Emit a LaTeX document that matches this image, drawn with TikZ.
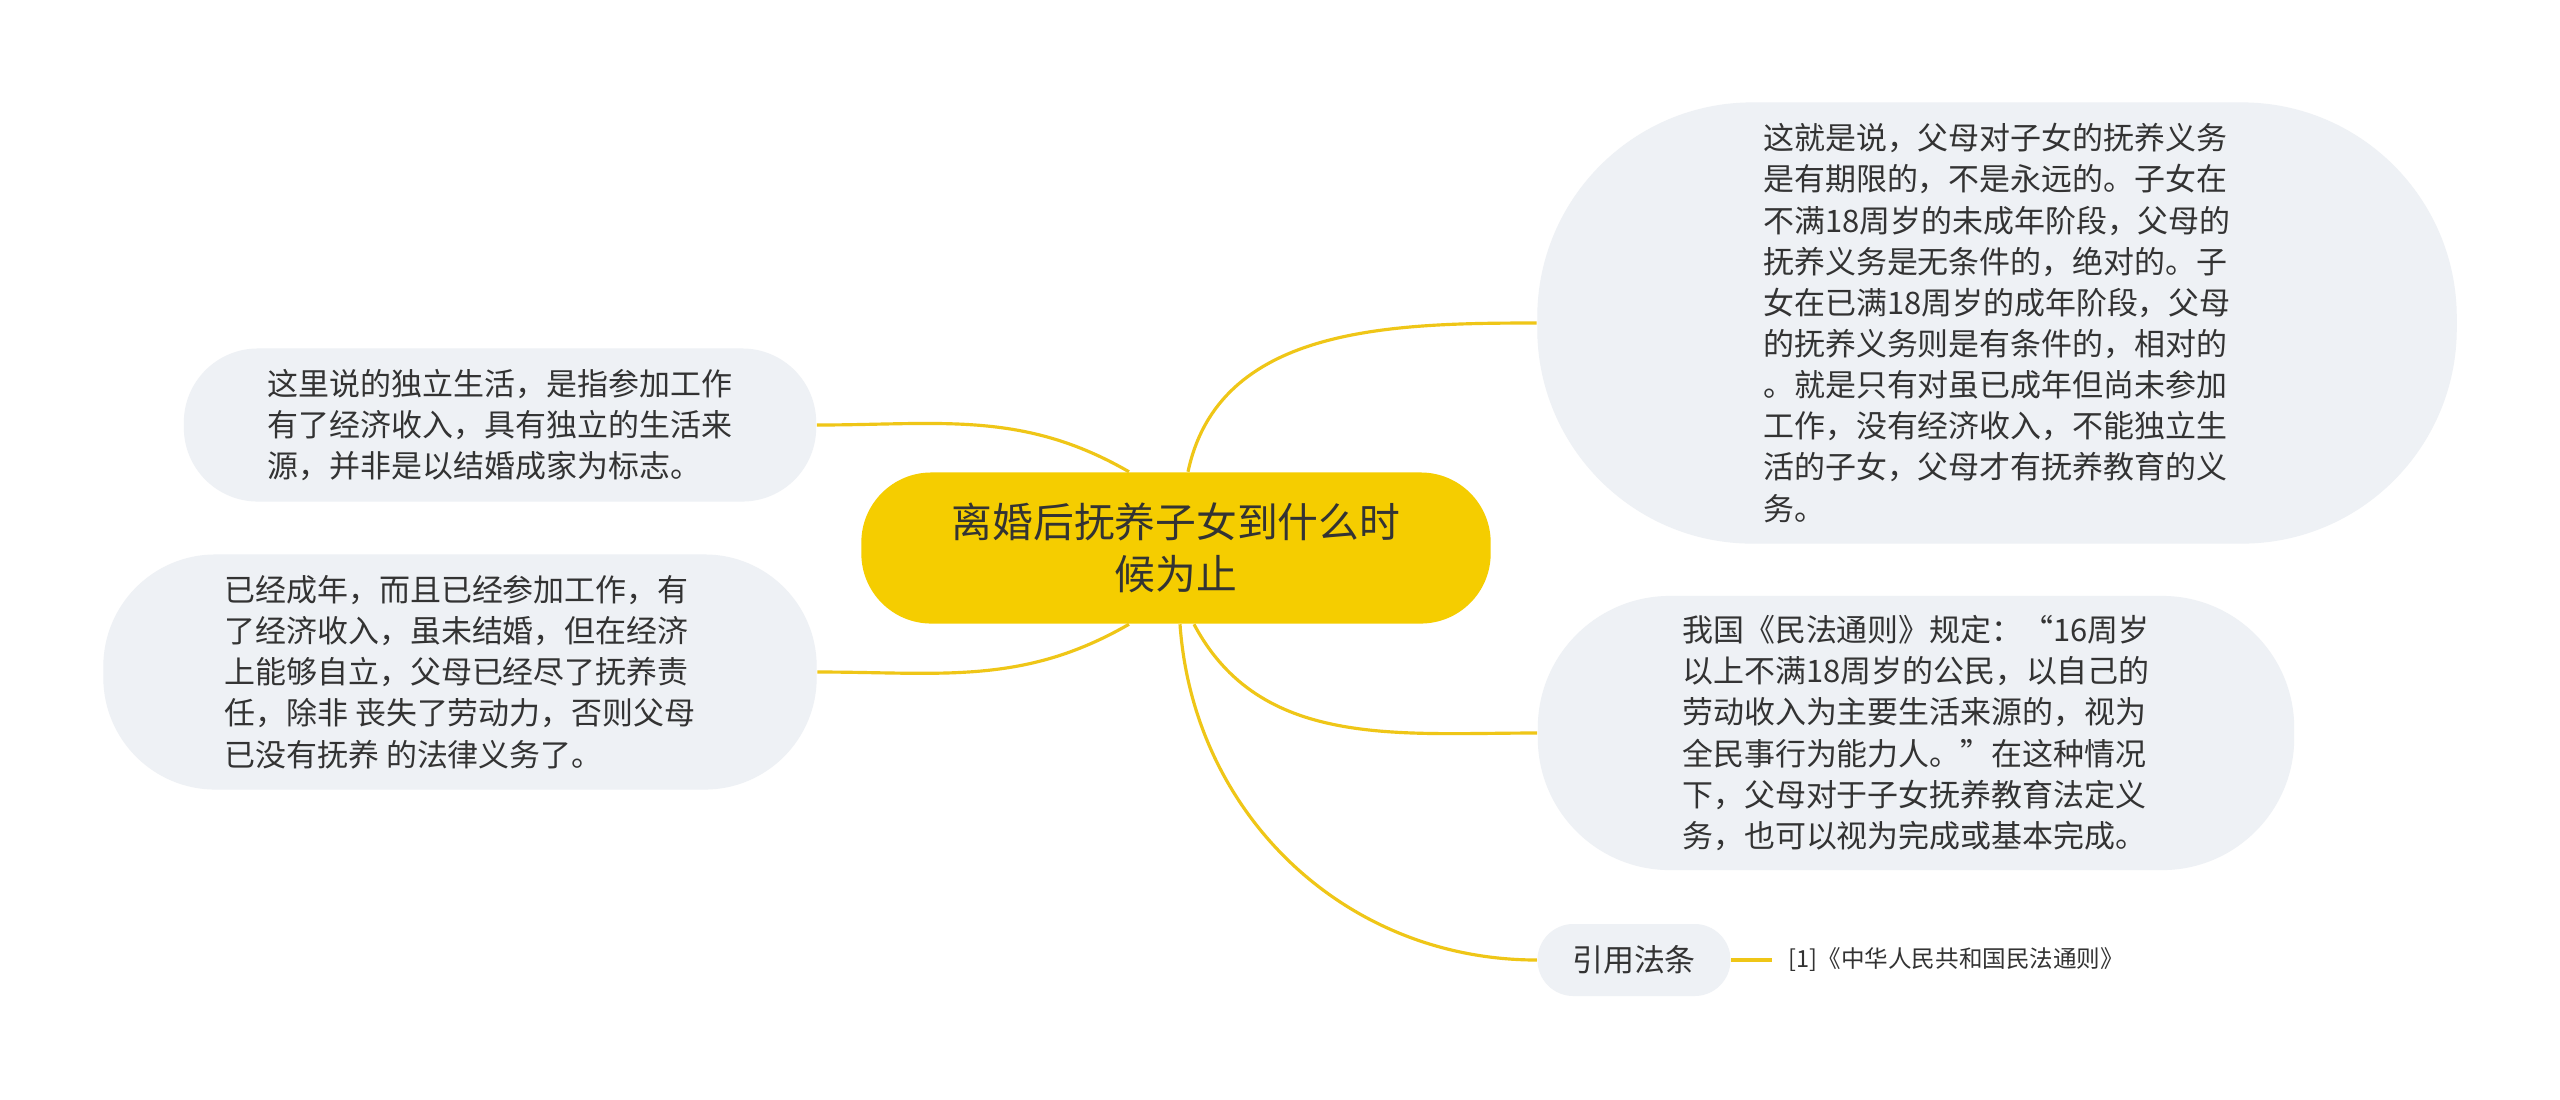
\documentclass[tikz,border=0pt]{standalone}
\usepackage{fontspec}
\setmainfont{Noto Sans CJK SC}
\definecolor{mainyellow}{HTML}{F5CD00}
\definecolor{linkyellow}{HTML}{EFC617}
\definecolor{leafgray}{HTML}{EEF1F5}
\definecolor{textgray}{HTML}{333333}
\tikzset{
    mainbox/.style={fill=mainyellow, rounded corners=0.7cm, inner sep=0pt, align=center, text=textgray, font=\fontsize{11.6}{14.8}\selectfont},
    leafbox/.style={fill=leafgray, inner sep=0pt, align=left, text=textgray, font=\fontsize{8.8}{11.7}\selectfont},
    link/.style={draw=linkyellow, line width=0.9pt},
}

\begin{document}
\begin{tikzpicture}[x=0.01cm, y=-0.01cm]
    \useasboundingbox[fill=white] (0,0) rectangle (2560,1099);
    \node[mainbox, minimum width=6.29cm, minimum height=1.51cm] (main) at (1176,548) {离婚后抚养子女到什么时\\候为止};
    \node[leafbox, rounded corners=0.74cm, minimum width=6.32cm, minimum height=1.53cm] (lt) at (500,425) {这里说的独立生活，是指参加工作\\有了经济收入，具有独立的生活来\\源，并非是以结婚成家为标志。};
    \node[leafbox, rounded corners=1.12cm, minimum width=7.13cm, minimum height=2.35cm] (lb) at (460,672) {已经成年，而且已经参加工作，有\\了经济收入，虽未结婚，但在经济\\上能够自立，父母已经尽了抚养责\\任，除非 丧失了劳动力，否则父母\\已没有抚养 的法律义务了。};
    \node[leafbox, rounded corners=2.15cm, minimum width=9.19cm, minimum height=4.41cm] (rt) at (1997,323) {这就是说，父母对子女的抚养义务\\是有期限的，不是永远的。子女在\\不满18周岁的未成年阶段，父母的\\抚养义务是无条件的，绝对的。子\\女在已满18周岁的成年阶段，父母\\的抚养义务则是有条件的，相对的\\。就是只有对虽已成年但尚未参加\\工作，没有经济收入，不能独立生\\活的子女，父母才有抚养教育的义\\务。};
    \node[leafbox, rounded corners=1.32cm, minimum width=7.56cm, minimum height=2.74cm] (rm) at (1916,733) {我国《民法通则》规定：“16周岁\\以上不满18周岁的公民，以自己的\\劳动收入为主要生活来源的，视为\\全民事行为能力人。”在这种情况\\下，父母对于子女抚养教育法定义\\务，也可以视为完成或基本完成。};
    \node[leafbox, rounded corners=0.36cm, minimum width=1.93cm, minimum height=0.72cm] (cite) at (1634,960) {引用法条};
    \node[anchor=west, inner sep=0pt, text=textgray, font=\fontsize{6.7}{8}\selectfont] (src) at (1788,960) {[1]《中华人民共和国民法通则》};
    \draw[link] ([xshift=-0.47cm]main.north) to[out=150, in=0] (lt.east);
    \draw[link] ([xshift=-0.47cm]main.south) to[out=-150, in=0] (lb.east);
    \draw[link] ([xshift=0.12cm]main.north) to[out=78, in=180] (rt.west);
    \draw[link] ([xshift=0.18cm]main.south) to[out=-62, in=180] (rm.west);
    \draw[link] ([xshift=0.04cm]main.south) to[out=-86, in=180] (cite.west);
    \draw[link, shorten >=1.6mm] (cite.east) -- (src.west);
\end{tikzpicture}
\end{document}
